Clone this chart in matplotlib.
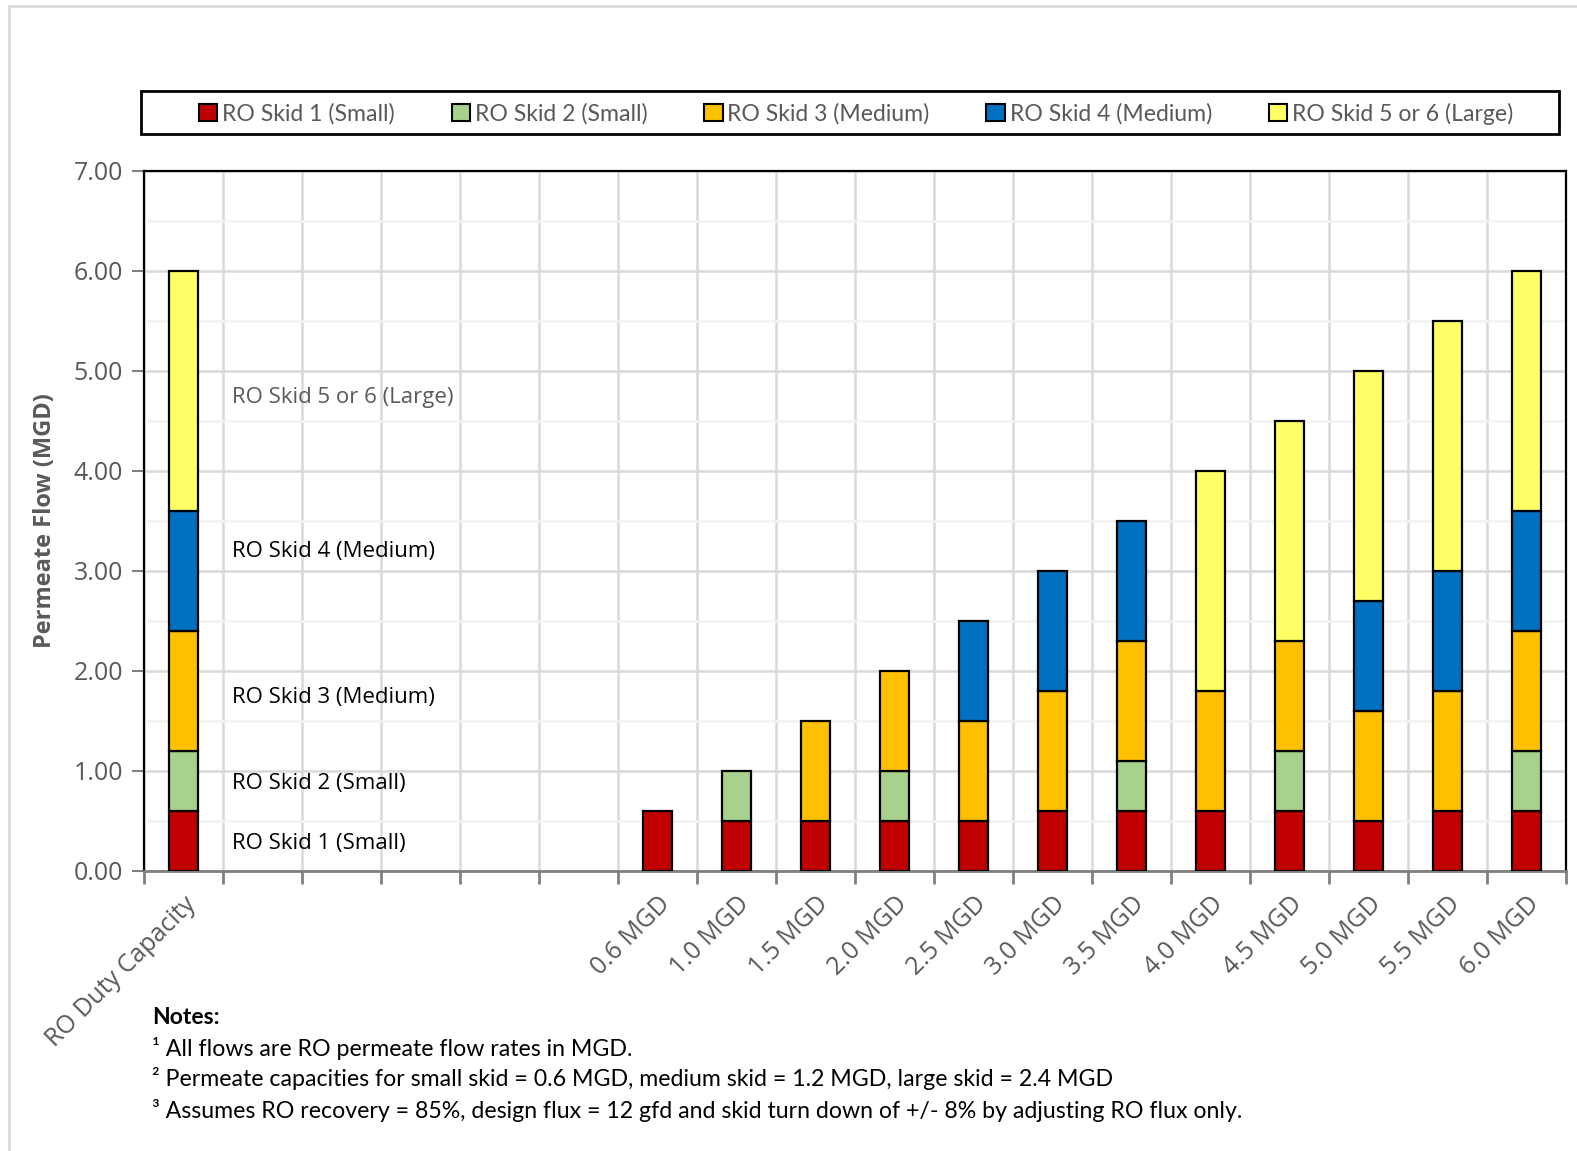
import numpy as np
import matplotlib
matplotlib.use("Agg")
import matplotlib.pyplot as plt
from matplotlib.lines import Line2D
from matplotlib.patches import Rectangle, Patch
from matplotlib.ticker import MultipleLocator

# categories along x (blank slots keep the gap after the duty bar)
categories = ["RO Duty Capacity", "", "", "", "", "",
              "0.6 MGD", "1.0 MGD", "1.5 MGD", "2.0 MGD", "2.5 MGD", "3.0 MGD",
              "3.5 MGD", "4.0 MGD", "4.5 MGD", "5.0 MGD", "5.5 MGD", "6.0 MGD"]

skid1 = [0.6, 0, 0, 0, 0, 0, 0.6, 0.5, 0.5, 0.5, 0.5, 0.6, 0.6, 0.6, 0.6, 0.5, 0.6, 0.6]
skid2 = [0.6, 0, 0, 0, 0, 0, 0.0, 0.5, 0.0, 0.5, 0.0, 0.0, 0.5, 0.0, 0.6, 0.0, 0.0, 0.6]
skid3 = [1.2, 0, 0, 0, 0, 0, 0.0, 0.0, 1.0, 1.0, 1.0, 1.2, 1.2, 1.2, 1.1, 1.1, 1.2, 1.2]
skid4 = [1.2, 0, 0, 0, 0, 0, 0.0, 0.0, 0.0, 0.0, 1.0, 1.2, 1.2, 0.0, 0.0, 1.1, 1.2, 1.2]
skid56 = [2.4, 0, 0, 0, 0, 0, 0.0, 0.0, 0.0, 0.0, 0.0, 0.0, 0.0, 2.2, 2.2, 2.3, 2.5, 2.4]

series_names = ["RO Skid 1 (Small)", "RO Skid 2 (Small)", "RO Skid 3 (Medium)",
                "RO Skid 4 (Medium)", "RO Skid 5 or 6 (Large)"]
colors = ["#C00000", "#A9D18E", "#FFC000", "#0070C0", "#FFFF66"]

notes = ["\u00b9 All flows are RO permeate flow rates in MGD.",
         "\u00b2 Permeate capacities for small skid = 0.6 MGD, medium skid = 1.2 MGD, large skid = 2.4 MGD",
         "\u00b3 Assumes RO recovery = 85%, design flux = 12 gfd and skid turn down of +/- 8% by adjusting RO flux only."]

W, H = 1577, 1151
fig = plt.figure(figsize=(W / 100, H / 100), dpi=100)
ax = fig.add_axes([144 / W, 1 - 871 / H, (1566 - 144) / W, (871 - 171) / H])

x = np.arange(len(categories))
bottom = np.zeros(len(categories))
for vals, c in zip([skid1, skid2, skid3, skid4, skid56], colors):
    vals = np.array(vals, dtype=float)
    m = vals > 0
    ax.bar(x[m], vals[m], bottom=bottom[m], width=0.36, color=c,
           edgecolor="black", linewidth=1.6, zorder=3)
    bottom += vals

ax.set_xlim(-0.5, len(categories) - 0.5)
ax.set_ylim(0, 7)
ax.yaxis.set_major_locator(MultipleLocator(1))
ax.yaxis.set_minor_locator(MultipleLocator(0.5))
ax.set_yticklabels([f"{v:.2f}" for v in ax.get_yticks()])

# category boundaries carry the tick marks and vertical gridlines
ax.set_xticks(np.arange(-0.5, len(categories)), minor=False)
ax.set_xticklabels([])
ax.set_xticks(x, minor=True)
ax.set_xticklabels(categories, minor=True, rotation=45, ha="right", va="top",
                   rotation_mode="anchor", fontsize=18, color="#595959",
                   family="Open Sans")
ax.tick_params(axis="x", which="minor", length=0, pad=15)
ax.tick_params(axis="x", which="major", length=9, width=2, color="#808080")
ax.tick_params(axis="y", which="major", length=9, width=1.5, color="#808080",
               labelsize=18, labelcolor="#595959", pad=6)
ax.tick_params(axis="y", which="minor", length=0)
for lab in ax.get_yticklabels():
    lab.set_family("Open Sans")

ax.grid(axis="x", which="major", color="#d9d9d9", linewidth=1.8, zorder=0)
ax.grid(axis="y", which="major", color="#d9d9d9", linewidth=1.8, zorder=0)
ax.grid(axis="y", which="minor", color="#f2f2f2", linewidth=1.8, zorder=0)
ax.set_axisbelow(True)

for side in ["left", "top", "right"]:
    ax.spines[side].set_color("black")
    ax.spines[side].set_linewidth(1.6)
ax.spines["bottom"].set_color("#808080")
ax.spines["bottom"].set_linewidth(2)

ax.set_ylabel("Permeate Flow (MGD)", fontsize=17, fontweight="bold",
              color="#595959", family="Open Sans", labelpad=12)

# labels beside the duty-capacity stack
ann = [("RO Skid 5 or 6 (Large)", 4.74, "#595959"),
       ("RO Skid 4 (Medium)", 3.2, "black"),
       ("RO Skid 3 (Medium)", 1.74, "black"),
       ("RO Skid 2 (Small)", 0.87, "black"),
       ("RO Skid 1 (Small)", 0.27, "black")]
for txt, yv, col in ann:
    ax.text(0.62, yv, txt, fontsize=16, color=col, va="center", ha="left",
            family="Open Sans")

# legend in its own black box above the plot
fig.add_artist(Rectangle((141 / W, 1 - 134 / H), (1559 - 141) / W, 43 / H,
                         transform=fig.transFigure, fill=False,
                         edgecolor="black", linewidth=2))
handles = [Patch(facecolor=c, edgecolor="black", linewidth=1.5) for c in colors]
fig.legend(handles, series_names, loc="center", ncol=5, frameon=False,
           bbox_to_anchor=(856 / W, 1 - 113.5 / H), handlelength=0.8,
           handleheight=0.8, handletextpad=0.2, columnspacing=2.47,
           prop={"family": "Lato", "size": 16.6}, labelcolor="#595959")

fig.text(152 / W, 1 - 1018 / H, "Notes:", fontsize=16.5, fontweight="bold",
         family="Lato", va="center", ha="left")
for i, line in enumerate(notes):
    fig.text(152 / W, 1 - (1048 + 31 * i) / H, line, fontsize=16.7,
             family="Lato", va="center", ha="left")

# light outer frame
fig.add_artist(Line2D([9 / W, 9 / W, 1], [0, 1 - 6 / H, 1 - 6 / H],
                      transform=fig.transFigure, color="#d9d9d9", linewidth=2))

fig.savefig("out.png", dpi=100)
